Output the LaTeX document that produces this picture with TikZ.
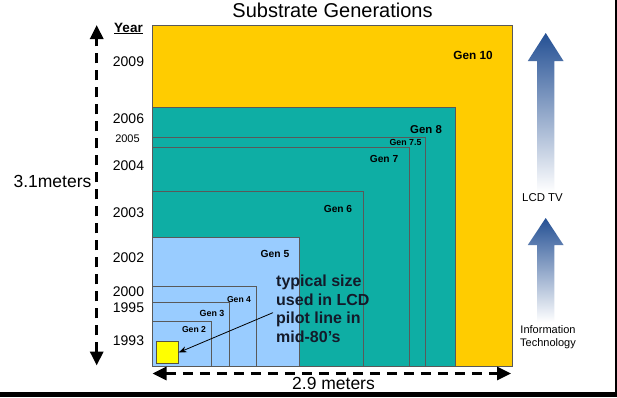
\documentclass[tikz,border=0pt]{standalone}
\usepackage{fontspec}
\setmainfont{Liberation Sans}
\usetikzlibrary{arrows.meta,calc}
\definecolor{gyellow}{RGB}{255,204,0}
\definecolor{gteal}{RGB}{14,174,164}
\definecolor{gblue}{RGB}{153,204,255}
\definecolor{arrblue}{RGB}{36,80,148}
\definecolor{txtnavy}{RGB}{20,26,42}
\definecolor{sqyellow}{RGB}{255,255,0}
\begin{document}
\begin{tikzpicture}[x=1pt,y=-1pt,
  gen/.style={draw=black!65, line width=0.7pt},
  glbl/.style={font=\bfseries\fontsize{#1}{#1}\selectfont, inner sep=0pt},
  yr/.style={font=\fontsize{#1}{#1}\selectfont, anchor=base, inner sep=0pt},
  big/.style={font=\fontsize{17.5}{17.5}\selectfont, anchor=base, inner sep=0pt},
  dimarrow/.style={line width=3pt, dash pattern=on 10pt off 7pt,
     {Triangle[length=14pt,width=13pt]}-{Triangle[length=14pt,width=13pt]}},
  gradarrow/.style={top color=arrblue, middle color=arrblue!55, bottom color=white, draw=none},
  small/.style={font=\fontsize{11.4}{13}\selectfont, inner sep=0pt, align=center}]
% background and frame
\fill[black] (0,0) rectangle (617,397);
\fill[white] (0,0) rectangle (615,392);
\useasboundingbox (0,0) rectangle (617,397);
% title
\node[font=\fontsize{20}{20}\selectfont, anchor=base, inner sep=0pt] (title) at (332.5,17.3) {Substrate Generations};
% generations
\filldraw[gen, fill=gyellow] (152.5,366.5) rectangle (512,25);
\filldraw[gen, fill=gteal] (152.5,366.5) rectangle (455,107.7);
\draw[gen] (152.5,366.5) rectangle (425.7,137.3);
\draw[gen] (152.5,366.5) rectangle (409.7,147);
\draw[gen] (152.5,366.5) rectangle (363.3,191.3);
\filldraw[gen, fill=gblue] (152.5,366.5) rectangle (299.3,237.7);
\draw[gen] (152.5,366.5) rectangle (256,286.7);
\draw[gen] (152.5,366.5) rectangle (229,302.7);
\draw[gen] (152.5,366.5) rectangle (211.3,321);
% gen labels
\node[glbl=11.8] (g10) at (473,55.5) {Gen 10};
\node[glbl=11.4] (g8) at (426,129.5) {Gen 8};
\node[glbl=8.8] (g75) at (405.5,142) {Gen 7.5};
\node[glbl=10.2] (g7) at (384,159) {Gen 7};
\node[glbl=10.2] (g6) at (338,208.5) {Gen 6};
\node[glbl=10.3] (g5) at (275,253.5) {Gen 5};
\node[glbl=8.6] (g4) at (239,299.5) {Gen 4};
\node[glbl=8.9] (g3) at (212,313.5) {Gen 3};
\node[glbl=8.6] (g2) at (194,330) {Gen 2};
% small square
\node[draw=black!60!yellow!60!black, line width=0.8pt, fill=sqyellow, minimum size=21.5pt, inner sep=0pt] (sq) at (167.5,352.5) {};
% typical size text
\node[font=\bfseries\fontsize{16}{18.7}\selectfont, text=txtnavy, align=left, anchor=north west, inner sep=0pt] (txt) at (276,274.5) {typical size\\used in LCD\\pilot line in\\mid-80’s};
\draw[-{Stealth[length=8pt,width=6pt]}, line width=0.8pt] ($(txt.west)+(-3,4)$) -- (sq.east);
% years
\node[yr=13.5, font=\bfseries\fontsize{13.5}{13.5}\selectfont] (year) at (128.5,32) {\underline{Year}};
\node[yr=14] (y2009) at (128.5,66) {2009};
\node[yr=14] (y2006) at (128.5,123) {2006};
\node[yr=11] (y2005) at (127.5,142.7) {2005};
\node[yr=14] (y2004) at (128.5,170) {2004};
\node[yr=14] (y2003) at (128.5,217) {2003};
\node[yr=14] (y2002) at (128.5,262) {2002};
\node[yr=14] (y2000) at (128.5,296) {2000};
\node[yr=14] (y1995) at (128.5,312.7) {1995};
\node[yr=14] (y1993) at (128.5,345) {1993};
% dimension arrows
\coordinate (vtop) at (96.7,25);
\coordinate (vbot) at (96.7,365.5);
\draw[dimarrow] (vbot) -- (vtop);
\node[big] (h) at (52.5,187) {3.1meters};
\coordinate (hl) at (152.5,373.5);
\coordinate (hr) at (511,373.5);
\draw[dimarrow] (hl) -- (hr);
\node[big] (w) at (333.5,389.5) {2.9 meters};
% right gradient arrows
\shade[gradarrow] (545.7,33) -- (563.5,61) -- (554.3,61) -- (554.3,192) -- (537.2,192) -- (537.2,61) -- (527.8,61) -- cycle;
\node[small] (lcd) at (542.5,198) {LCD TV};
\shade[gradarrow] (545.7,218) -- (563.5,245) -- (554.3,245) -- (554.3,322) -- (537.2,322) -- (537.2,245) -- (527.8,245) -- cycle;
\node[small, font=\fontsize{11}{13}\selectfont] (it) at (548,337.5) {Information\\Technology};
\end{tikzpicture}
\end{document}
